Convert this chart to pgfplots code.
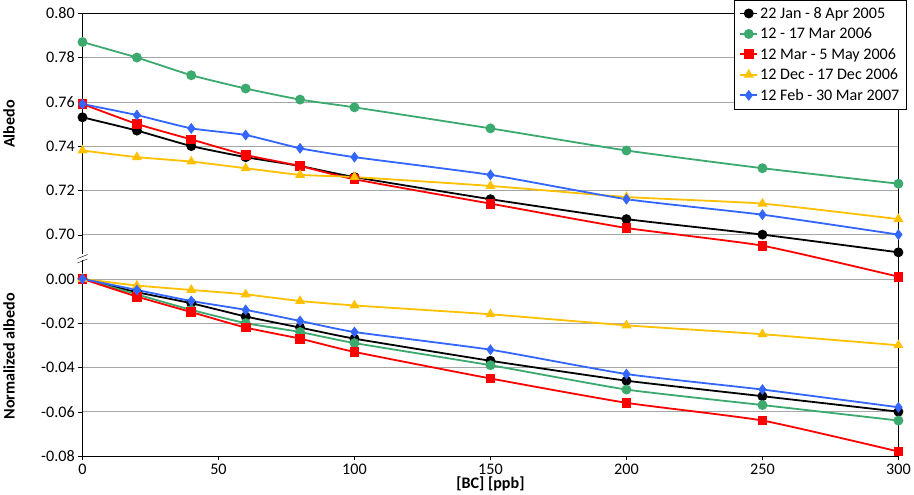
\documentclass[border=0pt]{standalone}
\usepackage{pgfplots}
\pgfplotsset{compat=1.18}
\usepackage{fontspec}
\setmainfont{Carlito}
\definecolor{cg}{RGB}{60,170,110}
\definecolor{cy}{RGB}{255,192,0}
\definecolor{cb}{RGB}{51,102,255}
\begin{document}
\begin{tikzpicture}
\begin{axis}[scale only axis, width=811bp, height=440bp,
 xmin=0, xmax=300, ymin=-0.08, ymax=0.12,
 xtick={0,50,100,150,200,250,300},
 ytick={-0.08,-0.06,-0.04,-0.02,0,0.02,0.04,0.06,0.08,0.10,0.12},
 yticklabels={-0.08,-0.06,-0.04,-0.02,0.00,0.70,0.72,0.74,0.76,0.78,0.80},
 ymajorgrids, grid style={gray!70},
 tick style={black}, tick align=outside, xtick pos=bottom, ytick pos=left,
 /pgf/number format/assume math mode=true,
 ticklabel style={font=\fontsize{16bp}{18bp}\selectfont},
 xlabel={\textbf{[BC] [ppb]}}, xlabel style={font=\fontsize{16bp}{18bp}\selectfont, yshift=4bp},
 legend style={at={(1.01,1.03)}, anchor=north east, font=\fontsize{16bp}{19bp}\selectfont, cells={anchor=west}, row sep=4bp, inner sep=5bp},
 every axis plot/.append style={line width=1.8pt, smooth, tension=0.3, mark size=4pt},
 clip=false]
\addplot[black, mark=*] table[y expr=\thisrowno{1}-0.68]{0 0.753
20 0.747
40 0.740
60 0.735
80 0.731
100 0.726
150 0.716
200 0.707
250 0.700
300 0.692
};
\addlegendentry{22 Jan - 8 Apr 2005}
\addplot[cg, mark=*] table[y expr=\thisrowno{1}-0.68]{0 0.787
20 0.780
40 0.772
60 0.766
80 0.761
100 0.7575
150 0.748
200 0.738
250 0.730
300 0.723
};
\addlegendentry{12 - 17 Mar 2006}
\addplot[red, mark=square*] table[y expr=\thisrowno{1}-0.68]{0 0.759
20 0.750
40 0.743
60 0.736
80 0.731
100 0.725
150 0.714
200 0.703
250 0.695
300 0.681
};
\addlegendentry{12 Mar - 5 May 2006}
\addplot[cy, mark=triangle*] table[y expr=\thisrowno{1}-0.68]{0 0.738
20 0.735
40 0.733
60 0.730
80 0.727
100 0.726
150 0.722
200 0.717
250 0.714
300 0.707
};
\addlegendentry{12 Dec - 17 Dec 2006}
\addplot[cb, mark=diamond*] table[y expr=\thisrowno{1}-0.68]{0 0.759
20 0.754
40 0.748
60 0.745
80 0.739
100 0.735
150 0.727
200 0.716
250 0.709
300 0.700
};
\addlegendentry{12 Feb - 30 Mar 2007}
\addplot[black, mark=*, forget plot] coordinates {(0,0)(20,-0.006)(40,-0.011)(60,-0.017)(80,-0.022)(100,-0.027)(150,-0.037)(200,-0.046)(250,-0.053)(300,-0.060)};
\addplot[cg, mark=*, forget plot] coordinates {(0,0)(20,-0.007)(40,-0.014)(60,-0.020)(80,-0.024)(100,-0.029)(150,-0.039)(200,-0.050)(250,-0.057)(300,-0.064)};
\addplot[red, mark=square*, forget plot] coordinates {(0,0)(20,-0.008)(40,-0.015)(60,-0.022)(80,-0.027)(100,-0.033)(150,-0.045)(200,-0.056)(250,-0.064)(300,-0.078)};
\addplot[cy, mark=triangle*, forget plot] coordinates {(0,0)(20,-0.003)(40,-0.005)(60,-0.007)(80,-0.010)(100,-0.012)(150,-0.016)(200,-0.021)(250,-0.025)(300,-0.030)};
\addplot[cb, mark=diamond*, forget plot] coordinates {(0,0)(20,-0.005)(40,-0.010)(60,-0.014)(80,-0.019)(100,-0.024)(150,-0.032)(200,-0.043)(250,-0.050)(300,-0.058)};
\fill[white] ([xshift=-6bp,yshift=-3bp]axis cs:0,0.01) rectangle ([xshift=6bp,yshift=3bp]axis cs:0,0.01);
\draw[black] ([xshift=-5bp,yshift=-4bp]axis cs:0,0.011) -- ([xshift=5bp,yshift=0bp]axis cs:0,0.011);
\draw[black] ([xshift=-5bp,yshift=-4bp]axis cs:0,0.009) -- ([xshift=5bp,yshift=0bp]axis cs:0,0.009);
\node[rotate=90, font=\bfseries\fontsize{16bp}{18bp}\selectfont] at ([xshift=-73bp]axis cs:0,0.07) {Albedo};
\node[rotate=90, font=\bfseries\fontsize{16bp}{18bp}\selectfont] at ([xshift=-73bp]axis cs:0,-0.035) {Normalized albedo};
\end{axis}
\end{tikzpicture}
\end{document}
